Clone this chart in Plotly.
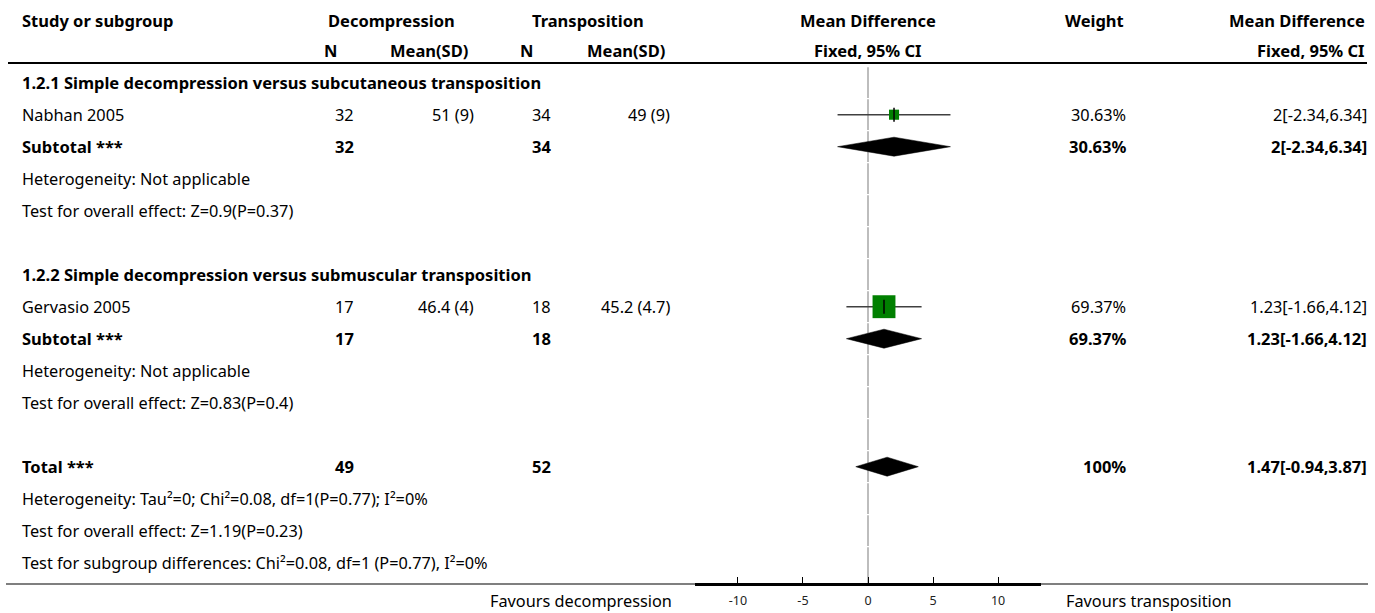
import plotly.graph_objects as go

# ---------------- data ----------------
group_titles = ["1.2.1 Simple decompression versus subcutaneous transposition",
                "1.2.2 Simple decompression versus submuscular transposition"]
studies = ["Nabhan 2005", "Gervasio 2005"]
dec_n = [32, 17]
dec_mean_sd = ["51 (9)", "46.4 (4)"]
trans_n = [34, 18]
trans_mean_sd = ["49 (9)", "45.2 (4.7)"]
study_md = [2, 1.23]
study_lo = [-2.34, -1.66]
study_hi = [6.34, 4.12]
study_weight = [30.63, 69.37]

sub_dec_n = [32, 17]
sub_trans_n = [34, 18]
sub_md = [2, 1.23]
sub_lo = [-2.34, -1.66]
sub_hi = [6.34, 4.12]
sub_weight = [30.63, 69.37]
sub_het = ["Heterogeneity: Not applicable", "Heterogeneity: Not applicable"]
sub_test = ["Test for overall effect: Z=0.9(P=0.37)", "Test for overall effect: Z=0.83(P=0.4)"]

total_dec_n = 49
total_trans_n = 52
total_md = 1.47
total_lo = -0.94
total_hi = 3.87
total_weight = 100
total_het = "Heterogeneity: Tau²=0; Chi²=0.08, df=1(P=0.77); I²=0%"
total_test = "Test for overall effect: Z=1.19(P=0.23)"
subgroup_test = "Test for subgroup differences: Chi²=0.08, df=1 (P=0.77), I²=0%"

x_ticks = [-10, -5, 0, 5, 10]
x_range = [-13.3, 13.3]
left_label = "Favours decompression"
right_label = "Favours transposition"

# ---------------- layout constants ----------------
W, H = 1375, 613
ROW0, ROW_H = 82.7, 32.0
FONT = "'Noto Sans', sans-serif"
FS = 16.3
FS_B = 16.5
C_TXT = "#000000"
PAD = 2  # annotation internal padding

X_STUDY = 22 - PAD
X_DN, X_DM, X_TN, X_TM = 354 + PAD, 474 + PAD, 551 + PAD, 670 + PAD
X_W, X_CI = 1126 + PAD, 1367 + PAD
PLOT_L, PLOT_R = 695, 1041
AXIS_Y = 584


def fmt(v):
    return f"{v:g}"


def rowy(i):
    return ROW0 + ROW_H * i


annotations = []


def txt(x, y, s, anchor="left", bold=False, color=C_TXT):
    annotations.append(dict(
        x=x, y=y, xref="x", yref="y", text=f"<b>{s}</b>" if bold else s,
        showarrow=False, xanchor=anchor, yanchor="middle",
        font=dict(family=FONT, size=FS_B if bold else FS, color=color)))


fig = go.Figure()

# ---------------- headers ----------------
H1, H2 = 20, 50
txt(X_STUDY, H1, "Study or subgroup", bold=True)
txt(391.5, H1, "Decompression", "center", bold=True)
txt(588, H1, "Transposition", "center", bold=True)
txt(868, H1, "Mean Difference", "center", bold=True)
txt(1124 + PAD, H1, "Weight", "right", bold=True)
txt(1365 + PAD, H1, "Mean Difference", "right", bold=True)
txt(337 + PAD, H2, "N", "right", bold=True)
txt(468 + PAD, H2, "Mean(SD)", "right", bold=True)
txt(533 + PAD, H2, "N", "right", bold=True)
txt(665 + PAD, H2, "Mean(SD)", "right", bold=True)
txt(868, H2, "Fixed, 95% CI", "center", bold=True)
txt(1365 + PAD, H2, "Fixed, 95% CI", "right", bold=True)

# ---------------- rows ----------------
sq_x, sq_y, sq_s = [], [], []
ci_x, ci_y = [], []
dia_x, dia_y = [], []
DIA_H = 9.5


def diamond(lo, md, hi, y):
    dia_x.extend([lo, md, hi, md, lo, None])
    dia_y.extend([y, y - DIA_H, y, y + DIA_H, y, None])


r = 0
for g in range(len(group_titles)):
    txt(X_STUDY, rowy(r), group_titles[g], bold=True)
    r += 1
    y = rowy(r)
    txt(X_STUDY, y, studies[g])
    txt(X_DN, y, str(dec_n[g]), "right")
    txt(X_DM, y, dec_mean_sd[g], "right")
    txt(X_TN, y, str(trans_n[g]), "right")
    txt(X_TM, y, trans_mean_sd[g], "right")
    txt(X_W, y, f"{study_weight[g]:.2f}%", "right")
    txt(X_CI, y, f"{fmt(study_md[g])}[{fmt(study_lo[g])},{fmt(study_hi[g])}]", "right")
    sq_x.append(study_md[g]); sq_y.append(y); sq_s.append(study_weight[g] * 0.33)
    ci_x.extend([study_lo[g], study_hi[g], None]); ci_y.extend([y, y, None])
    r += 1
    y = rowy(r)
    txt(X_STUDY, y, "Subtotal ***", bold=True)
    txt(X_DN, y, str(sub_dec_n[g]), "right", bold=True)
    txt(X_TN, y, str(sub_trans_n[g]), "right", bold=True)
    txt(X_W, y, f"{sub_weight[g]:.2f}%", "right", bold=True)
    txt(X_CI, y, f"{fmt(sub_md[g])}[{fmt(sub_lo[g])},{fmt(sub_hi[g])}]", "right", bold=True)
    diamond(sub_lo[g], sub_md[g], sub_hi[g], y)
    r += 1
    txt(X_STUDY, rowy(r), sub_het[g]); r += 1
    txt(X_STUDY, rowy(r), sub_test[g]); r += 1
    r += 1  # blank row

y = rowy(r)
txt(X_STUDY, y, "Total ***", bold=True)
txt(X_DN, y, str(total_dec_n), "right", bold=True)
txt(X_TN, y, str(total_trans_n), "right", bold=True)
txt(X_W, y, f"{total_weight:g}%", "right", bold=True)
txt(X_CI, y, f"{fmt(total_md)}[{fmt(total_lo)},{fmt(total_hi)}]", "right", bold=True)
diamond(total_lo, total_md, total_hi, y)
r += 1
txt(X_STUDY, rowy(r), total_het); r += 1
txt(X_STUDY, rowy(r), total_test); r += 1
txt(X_STUDY, rowy(r), subgroup_test); r += 1
n_rows = r

# favours labels
txt(672 + PAD, 601, left_label, "right")
txt(1066 - PAD, 601, right_label, "left")

# ---------------- zero line (segmented per row) ----------------
zx, zy = [], []
for i in range(n_rows):
    top = rowy(i) - ROW_H / 2 + 0.6
    bot = rowy(i) + ROW_H / 2 - 0.6 if i < n_rows - 1 else AXIS_Y
    zx.extend([0, 0, None]); zy.extend([top, bot, None])

fig.add_trace(go.Scatter(x=zx, y=zy, xaxis="x2", yaxis="y", mode="lines",
                         line=dict(color="#9a9a9a", width=1.3), hoverinfo="skip"))
# CI lines
fig.add_trace(go.Scatter(x=ci_x, y=ci_y, xaxis="x2", yaxis="y", mode="lines",
                         line=dict(color="#404040", width=1.5), hoverinfo="skip"))
# squares
fig.add_trace(go.Scatter(x=sq_x, y=sq_y, xaxis="x2", yaxis="y", mode="markers",
                         opacity=1,
                         marker=dict(symbol="square", size=sq_s, color="#008000", opacity=1,
                                     line=dict(width=0, color="#008000")), hoverinfo="skip"))
# centre ticks
fig.add_trace(go.Scatter(x=sq_x, y=sq_y, xaxis="x2", yaxis="y", mode="markers",
                         marker=dict(symbol="line-ns", size=10, opacity=1,
                                     line=dict(width=1.5, color="#000000")), hoverinfo="skip"))
# diamonds
fig.add_trace(go.Scatter(x=dia_x, y=dia_y, xaxis="x2", yaxis="y", mode="lines",
                         fill="toself", fillcolor="#000000",
                         line=dict(color="#000000", width=0.5), hoverinfo="skip"))

shapes = [
    dict(type="line", xref="x", yref="y", x0=8, x1=1367, y0=63, y1=63,
         line=dict(color="#000000", width=2)),
    dict(type="line", xref="x", yref="y", x0=6, x1=1368, y0=AXIS_Y, y1=AXIS_Y,
         line=dict(color="#000000", width=1.2)),
]

fig.update_layout(
    width=W, height=H, margin=dict(l=0, r=0, t=0, b=0),
    paper_bgcolor="white", plot_bgcolor="rgba(0,0,0,0)", showlegend=False,
    xaxis=dict(range=[0, W], domain=[0, 1], visible=False, fixedrange=True),
    yaxis=dict(range=[H, 0], domain=[0, 1], visible=False, fixedrange=True),
    xaxis2=dict(range=x_range, domain=[PLOT_L / W, PLOT_R / W], anchor="free",
                position=1 - AXIS_Y / H, showline=True, linewidth=2.6,
                linecolor="#000000", ticks="inside", ticklen=6, tickwidth=1,
                tickcolor="#000000", tickvals=x_ticks, ticktext=[str(t) for t in x_ticks],
                tickfont=dict(family=FONT, size=12.5, color="#222222"),
                ticklabelstandoff=4, showgrid=False, zeroline=False, fixedrange=True),
    annotations=annotations, shapes=shapes,
)

fig.write_html("out.html", config={"displayModeBar": False},
               post_script="document.body.style.margin='0';document.body.style.overflow='hidden';")
